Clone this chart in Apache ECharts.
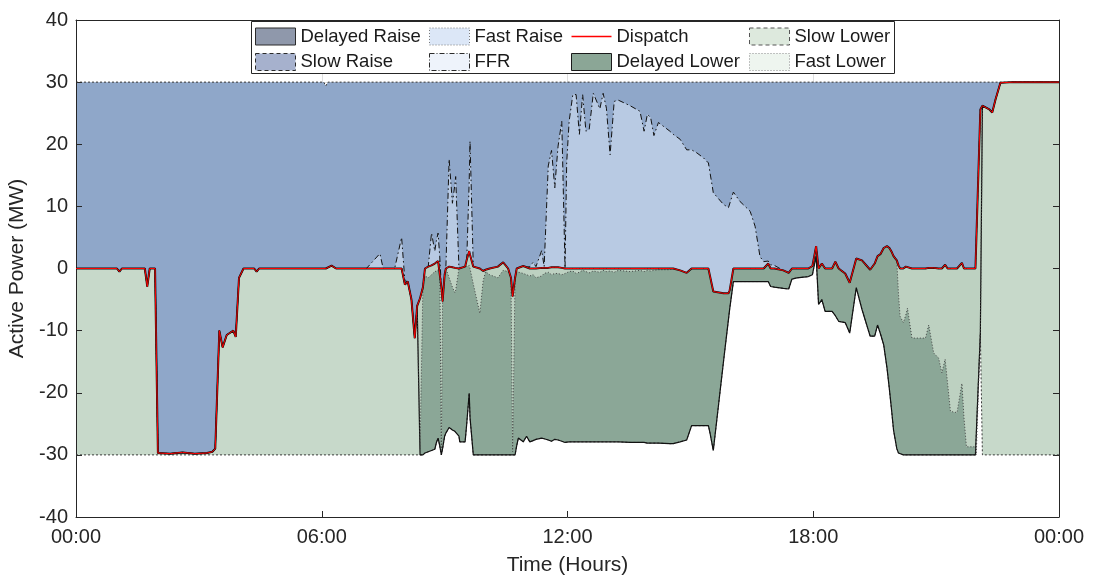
<!DOCTYPE html>
<html>
<head>
<meta charset="utf-8">
<script src="https://cdn.jsdelivr.net/npm/echarts@6/dist/echarts.min.js"></script>
<style>
  html, body { margin: 0; padding: 0; background: #ffffff; }
  #chart { width: 1095px; height: 581px; }
</style>
</head>
<body>
<div id="chart"></div>
<script>
// Sample times (hours after midnight), one row per breakpoint of the day.
const hours = [
  0, 1, 1.06, 1.12, 1.68, 1.74, 1.8, 1.93,
  2, 2.3, 2.6, 2.9, 3.2, 3.33, 3.4, 3.5, 3.58, 3.68, 3.84, 3.9, 3.98,
  4.09, 4.35, 4.41, 4.47, 6.1, 6.24, 6.35,
  7.09, 7.42, 7.5, 7.78, 7.95,
  8.03, 8.1, 8.19, 8.27, 8.33, 8.4, 8.47, 8.52, 8.6, 8.68, 8.76, 8.8, 8.84, 8.88, 8.92, 8.95,
  9, 9.03, 9.11, 9.19, 9.25, 9.27, 9.35, 9.37, 9.5, 9.54, 9.6, 9.62, 9.7, 9.86, 9.94,
  10, 10.1, 10.3, 10.43, 10.55, 10.62, 10.66, 10.72, 10.76, 10.8, 10.92,
  11, 11.08, 11.16, 11.23, 11.37, 11.43, 11.53, 11.61, 11.69, 11.73, 11.77, 11.86, 11.94, 11.98,
  12.04, 12.13, 12.21, 12.29, 12.37, 12.45, 12.53, 12.63, 12.79, 12.87, 12.95,
  13.04, 13.14, 13.24, 13.53, 13.77, 13.87, 13.95,
  14.03, 14.11, 14.22, 14.5, 14.58, 14.75, 14.91,
  15.03, 15.16, 15.32, 15.44, 15.48, 15.56, 15.81, 15.93, 15.96,
  16.05, 16.21, 16.46, 16.58, 16.7, 16.79, 16.83, 16.9, 16.96,
  17.05, 17.27, 17.4, 17.48, 17.6, 17.88, 17.98,
  18.07, 18.13, 18.21, 18.29, 18.46, 18.54, 18.62, 18.78, 18.89,
  19.05, 19.19, 19.39, 19.5, 19.57, 19.64, 19.72, 19.8, 19.86, 19.92, 19.96,
  20.04, 20.08, 20.12, 20.2, 20.26, 20.3, 20.41, 20.74, 20.82, 20.94,
  21.06, 21.14, 21.22, 21.28, 21.35, 21.51, 21.63, 21.68, 21.74, 21.96, 21.98,
  22.08, 22.13, 22.16, 22.3, 22.37, 22.45, 22.57, 22.9, 22.94,
  23, 24
];

// Energy dispatch target (MW)
const dispatch = [
  0, 0, -0.5, 0, 0, -2.9, 0, 0,
  -29.7, -29.8, -29.6, -29.8, -29.7, -29.5, -29.0, -10.0, -12.7, -10.7, -10.0, -11.0, -1.5,
  0, 0, -0.5, 0, 0, 0.45, 0,
  0, 0, 0, 0, 0,
  -2.6, -2.1, -5.0, -11.2, -6.0, -4.8, -3.0, 0, 0.3, 0.5, 0.8, 1.0, 1.2, 1.4, -3.0, -5.3,
  -1.0, 0, 0.3, 0.2, 0.1, 0.1, 0, 0, 0.3, 1.4, 2.8, 2.2, 0.3, 0, -0.4,
  -0.2, 0, 0.3, 1.0, 0, -1.5, -4.5, -1.5, 0, 0.1, 0.4,
  0.2, 0, 0, 0, 0.1, 0.1, 0.1, 0.2, 0.2, 0.3, 0.2, 0.1, 0, 0,
  0, 0, 0, 0, 0, 0, 0, 0, 0, 0, 0,
  0, 0, 0, 0, 0, 0, 0,
  0, 0, 0, 0, 0, -0.3, -0.7,
  0, 0, 0, 0, 0, -3.7, -4.0, -4.0, -3.5,
  0, 0, 0, 0, 0, 0, 0, 0.8, 0,
  0, -0.3, -0.7, 0, 0, 0, 0.4,
  3.6, 0, 0.8, 0, 0, 1.1, 0, -0.8, -2.3,
  1.6, 1.3, -0.2, 0.8, 2.0, 2.3, 3.3, 3.6, 3.3, 2.6, 2.0,
  1.3, 0.5, 0, 0, 0.3, 0, 0, 0, 0.1, 0.1,
  0, 0, 0.6, 0, 0, 0, 0.9, 0, 0, 0, 0,
  25.6, 26.2, 26.4, 25.6, 25.1, 27.2, 29.9, 30, 29.7,
  30, 30
];

// FFR enablement above dispatch (MW)
const ffr = [
  0, 0, 0, 0, 0, 0, 0, 0,
  0, 0, 0, 0, 0, 0, 0, 0, 0, 0, 0, 0, 0,
  0, 0, 0, 0, 0, 0, 0,
  0, 2.4, 0, 0, 5.0,
  0.6, 0, 0, 0, 0, 0, 0, 0, 0, 5.2, 2.0, 3.5, 4.5, 0.6, 0, 0,
  0, 0, 17.3, 10.3, 13.4, 14.7, 0, 0, 0, 0, 11.2, 18.3, 0, 0, 0,
  0, 0, 0, 0, 0, 0, 0, 0, 0, 0, 0,
  0, 0.3, 1.0, 0.3, 2.8, 0.2, 16.4, 18.8, 12.8, 16.2, 19.5, 23.6, 0, 17.0,
  23.7, 28.0, 28.0, 21.6, 28.0, 22.1, 22.4, 28.2, 25.7, 28.2, 25.8,
  18.3, 26.9, 27.1, 26.2, 25.3, 22.1, 24.8,
  24.3, 21.4, 23.5, 22.1, 21.6, 21.1, 19.8,
  19.1, 18.6, 17.8, 17.0, 16.7, 15.9, 14.3, 13.8, 13.2,
  12.3, 10.8, 9.2, 6.8, 1.9, 1.1, 0.9, 0.4, 0.6,
  0.5, 0, 0, 0, 0, 0, 0,
  0, 0, 0, 0, 0, 0, 0, 0, 0,
  0, 0, 0, 0, 0, 0, 0, 0, 0, 0, 0,
  0, 0, 0, 0, 0, 0, 0, 0, 0, 0,
  0, 0, 0, 0, 0, 0, 0, 0, 0, 0, 0,
  0, 0, 0, 0, 0, 0, 0, 0, 0,
  0, 0
];

// Fast lower enablement below dispatch (MW)
const fastLower = [
  0, 0, 0, 0, 0, 0, 0, 0,
  0, 0, 0, 0, 0, 0, 0, 0, 0, 0, 0, 0, 0,
  0, 0, 0, 0, 0, 0, 0,
  0, 0, 0, 0, 0,
  0, 0, 0, 0, 0, 24.2, 0, 1.2, 1.8, 1.5, 1.3, 1.5, 1.5, 0, 26.5, 0,
  0, 0, 1.8, 3.2, 4.0, 3.6, 0, 0, 0, 0.9, 2.3, 2.2, 2.8, 7.2, 1.6,
  0.3, 1.0, 1.8, 1.3, 0.5, 0, 25.0, 0, 0.5, 0.7, 1.2,
  1.2, 1.2, 1.0, 1.5, 1.3, 0.9, 0.7, 1.2, 1.0, 0.9, 1.0, 1.1, 0.8, 0.6,
  0.5, 0.4, 0.8, 0.6, 0.3, 0.5, 0.7, 0.4, 0.6, 0.3, 0.5,
  0.4, 0.6, 0.3, 0.5, 0.3, 0.5, 0.3,
  0.4, 0.3, 0.2, 0.2, 0, 0, 0,
  0, 0, 0, 0, 0, 0, 0, 0, 0,
  0, 0, 0, 0, 0, 0, 0, 0, 0,
  0, 0, 0, 0, 0, 0, 0,
  0, 0, 0, 0, 0, 0, 0, 0, 0,
  0, 0, 0, 0, 0, 0, 0, 0, 0, 0, 0,
  0, 4.5, 7.7, 8.7, 7.8, 6.4, 11.2, 11.2, 9.2, 13.7,
  14.4, 16.8, 15.2, 18.5, 23.0, 23.2, 19.4, 24.0, 28.7, 28.7, 30,
  36.0, 0, 0, 0, 0, 0, 0, 0, 0,
  0, 0
];

// Delayed lower enablement below fast lower (MW)
const delayedLower = [
  0, 0, 0, 0, 0, 0, 0, 0,
  0, 0, 0, 0, 0, 0, 0, 0, 0, 0, 0, 0, 0,
  0, 0, 0, 0, 0, 0, 0,
  0, 0, 0, 0, 0,
  0, 0, 0, 0, 0, 1.0, 27.0, 28.5, 28.0, 28.3, 28.6, 27.5, 27.0, 29.9, 0.5, 23.7,
  26.0, 26.5, 24.1, 23.0, 22.3, 22.5, 27.0, 27.9, 28.2, 25.5, 20.6, 24.0, 27.5, 22.8, 28.0,
  29.5, 29.0, 28.5, 29.7, 29.5, 28.5, 0.5, 28.5, 28.0, 26.7, 27.1,
  26.0, 26.7, 26.7, 26.0, 26.1, 26.6, 27.0, 26.8, 26.7, 26.9, 26.8, 26.8, 27.2, 27.4,
  27.4, 27.5, 27.1, 27.3, 27.6, 27.4, 27.2, 27.5, 27.3, 27.6, 27.4,
  27.5, 27.3, 27.6, 27.5, 27.7, 27.5, 27.8,
  27.7, 27.8, 27.9, 28.0, 28.2, 27.6, 26.9,
  25.3, 25.3, 25.3, 25.3, 26.5, 25.6, 10.9, 4.2, 3.0,
  2.1, 2.1, 2.1, 2.1, 2.1, 2.1, 2.1, 2.9, 2.9,
  3.0, 2.9, 2.6, 1.7, 1.5, 1.3, 1.4,
  1.6, 5.8, 5.8, 6.9, 6.9, 8.7, 8.5, 7.9, 8.1,
  4.7, 7.9, 10.7, 11.7, 11.1, 12.8, 15.6, 19.6, 22.8, 25.9, 28.0,
  30.3, 25.7, 22.3, 21.3, 22.5, 23.6, 18.8, 18.8, 20.9, 16.4,
  15.6, 13.2, 15.4, 11.5, 7.0, 6.8, 11.5, 6.0, 1.3, 1.3, 0,
  0, 0, 0, 0, 0, 0, 0, 0, 0,
  0, 0
];

// Slow lower enablement below delayed lower (MW)
const slowLower = [
  30, 30, 29.5, 30, 30, 27.1, 30, 30,
  0.3, 0.2, 0.4, 0.2, 0.3, 0.5, 1.0, 20.0, 17.3, 19.3, 20.0, 19.0, 28.5,
  30, 30, 29.5, 30, 30, 30.45, 30,
  30, 30, 30, 30, 30,
  27.4, 27.9, 25.0, 18.8, 24.0, 0, 0, 0, 0, 0, 0, 0, 0, 0, 0, 0,
  0, 0, 0, 0, 0, 0, 0, 0, 0, 0, 0, 0, 0, 0, 0,
  0, 0, 0, 0, 0, 0, 0, 0, 0, 0, 0,
  0, 0, 0, 0, 0, 0, 0, 0, 0, 0, 0, 0, 0, 0,
  0, 0, 0, 0, 0, 0, 0, 0, 0, 0, 0,
  0, 0, 0, 0, 0, 0, 0,
  0, 0, 0, 0, 0, 0, 0,
  0, 0, 0, 0, 0, 0, 0, 0, 0,
  0, 0, 0, 0, 0, 0, 0, 0, 0,
  0, 0, 0, 0, 0, 0, 0,
  0, 0, 0, 0, 0, 0, 0, 0, 0,
  0, 0, 0, 0, 0, 0, 0, 0, 0, 0, 0,
  0, 0, 0, 0, 0, 0, 0, 0, 0, 0,
  0, 0, 0, 0, 0, 0, 0, 0, 0, 0, 0,
  0, 56.2, 56.4, 55.6, 55.1, 57.2, 59.9, 60, 59.7,
  60, 60
];

// Upper limit of the raise services (MW)
const raiseLimitHours = [0, 6.05, 6.1, 6.15, 24];
const raiseLimit = [30, 30, 29.4, 30, 30];

// Axis tick labels
const timeLabels = ['00:00', '06:00', '12:00', '18:00', '00:00'];

// ---------------------------------------------------------------------------
const FONT = "'Liberation Sans', Arial, Helvetica, sans-serif";
const INK = '#262626';
const GRID = 'rgba(38,38,38,0.15)';

// Band edges, from dispatch downwards (lower services) and upwards (FFR)
const round2 = v => Math.round(v * 100) / 100;
const fastEdge = dispatch.map((d, i) => round2(d - fastLower[i]));
const delayedEdge = fastEdge.map((v, i) => round2(v - delayedLower[i]));
const slowEdge = delayedEdge.map((v, i) => round2(v - slowLower[i]));
const ffrEdge = dispatch.map((d, i) => round2(d + ffr[i]));
const pairs = arr => hours.map((h, i) => [h, arr[i]]);

// Each band is painted from its upper edge down to the axis floor; painting
// from the highest edge to the lowest leaves every band its own colour.
const fill = (name, data, color) => ({
  type: 'line', name, data, symbol: 'none', showSymbol: false, silent: true,
  lineStyle: { width: 0, opacity: 0 },
  areaStyle: { color, opacity: 1, origin: 'start' }
});
const edge = (name, values, color, width, type) => ({
  type: 'line', name, data: pairs(values), symbol: 'none', showSymbol: false, silent: true,
  lineStyle: { color, width, type }
});

const series = [
  fill('Slow Raise', raiseLimitHours.map((h, i) => [h, raiseLimit[i]]), '#8fa7c9'),
  fill('FFR', pairs(ffrEdge), '#b8cae3'),
  fill('Fast Lower', pairs(dispatch), '#bdd1c1'),
  fill('Delayed Lower', pairs(fastEdge), '#8ba797'),
  fill('Slow Lower', pairs(delayedEdge), '#c7d9ca'),
  fill('floor', pairs(slowEdge), '#ffffff'),
  {
    type: 'line', name: 'Slow Raise', silent: true, symbol: 'none', showSymbol: false,
    data: raiseLimitHours.map((h, i) => [h, raiseLimit[i]]),
    lineStyle: { color: '#333', width: 1, type: [2, 2] }
  },
  edge('Slow Lower', slowEdge, '#3a3a3a', 1, [2, 2]),
  edge('Delayed Lower', delayedEdge, '#111', 1.2, 'solid'),
  edge('Fast Lower', fastEdge, '#444', 1, [1, 2]),
  edge('FFR', ffrEdge, '#111', 1, [6, 3, 1.5, 3]),
  edge('Dispatch', dispatch, '#111', 2, 'solid'),
  edge('Dispatch', dispatch, '#ff0000', 1, 'solid'),
  { type: 'line', name: 'Delayed Raise', data: [] },
  { type: 'line', name: 'Fast Raise', data: [] }
];

// legend: four columns of two entries
const legendLook = {
  'Delayed Raise': { fill: '#8f98ab', border: '#2b2b2b', dash: 'solid' },
  'Slow Raise':    { fill: '#a6b1cd', border: '#2b2b2b', dash: [4, 3] },
  'Fast Raise':    { fill: '#dce7f7', border: '#7a7a7a', dash: [1, 2] },
  'FFR':           { fill: '#eef3fb', border: '#2b2b2b', dash: [5, 2, 1, 2] },
  'Delayed Lower': { fill: '#8ba696', border: '#1a1a1a', dash: 'solid' },
  'Slow Lower':    { fill: '#dde9dd', border: '#555555', dash: [4, 3] },
  'Fast Lower':    { fill: '#eef5ef', border: '#888888', dash: [1, 2] }
};
const DISPATCH_ICON = 'path://M0,0L0.01,0L0,0.01ZM0,7.7L40,7.7L40,9.3L0,9.3ZM40,17L39.99,17L40,16.99Z';
const legendCols = [
  { left: 255, names: ['Delayed Raise', 'Slow Raise'] },
  { left: 429, names: ['Fast Raise', 'FFR'] },
  { left: 571, names: ['Dispatch', 'Delayed Lower'] },
  { left: 749, names: ['Slow Lower', 'Fast Lower'] }
];
const legend = legendCols.map(col => ({
  orient: 'vertical', left: col.left, top: 27, padding: 0,
  itemWidth: 40, itemHeight: 17, itemGap: 6.5, z: 12, selectedMode: false,
  symbolKeepAspect: false,
  textStyle: { fontSize: 18.5, color: '#1a1a1a', fontFamily: FONT },
  data: col.names.map(n => n === 'Dispatch'
    ? { name: n, icon: DISPATCH_ICON, itemStyle: { color: '#ff0000', borderWidth: 0 } }
    : { name: n, icon: 'rect', itemStyle: {
        color: legendLook[n].fill, borderColor: legendLook[n].border,
        borderWidth: 1, borderType: legendLook[n].dash } })
}));

const frameAxis = { onZero: false, lineStyle: { color: INK, width: 1 } };
const tick = { show: true, inside: true, length: 6, lineStyle: { color: INK, width: 1 } };

const option = {
  animation: false,
  backgroundColor: '#ffffff',
  textStyle: { fontFamily: FONT },
  grid: { left: 76, right: 36, top: 20, bottom: 64, containLabel: false, outerBoundsMode: 'none' },
  legend,
  graphic: [{
    type: 'rect', left: 251, top: 21, z: 10, silent: true,
    shape: { width: 643, height: 52 },
    style: { fill: '#ffffff', stroke: INK, lineWidth: 1 }
  }],
  xAxis: [
    {
      type: 'value', min: 0, max: 24, interval: 6, position: 'bottom', z: 3,
      axisLine: Object.assign({ show: true }, frameAxis), axisTick: tick,
      axisLabel: { color: INK, fontSize: 20, fontFamily: FONT, margin: 10,
        formatter: v => timeLabels[Math.round(v / 6)] },
      splitLine: { show: true, lineStyle: { color: GRID, width: 1 } },
      name: 'Time (Hours)', nameLocation: 'middle', nameGap: 38,
      nameTextStyle: { color: INK, fontSize: 21, fontFamily: FONT }
    },
    {
      type: 'value', min: 0, max: 24, interval: 6, position: 'top', z: 3,
      axisLine: Object.assign({ show: true }, frameAxis), axisTick: tick,
      axisLabel: { show: false }, splitLine: { show: false }
    }
  ],
  yAxis: [
    {
      type: 'value', min: -40, max: 40, interval: 10, position: 'left', z: 3,
      axisLine: Object.assign({ show: true }, frameAxis), axisTick: tick,
      axisLabel: { color: INK, fontSize: 20, fontFamily: FONT, margin: 8 },
      splitLine: { show: true, lineStyle: { color: GRID, width: 1 } },
      name: 'Active Power (MW)', nameLocation: 'middle', nameRotate: 90, nameGap: 44,
      nameTextStyle: { color: INK, fontSize: 21, fontFamily: FONT }
    },
    {
      type: 'value', min: -40, max: 40, interval: 10, position: 'right', z: 3,
      axisLine: Object.assign({ show: true }, frameAxis), axisTick: tick,
      axisLabel: { show: false }, splitLine: { show: false }
    }
  ],
  series
};

const chart = echarts.init(document.getElementById('chart'), null, { renderer: 'canvas' });
chart.setOption(option);
</script>
</body>
</html>
